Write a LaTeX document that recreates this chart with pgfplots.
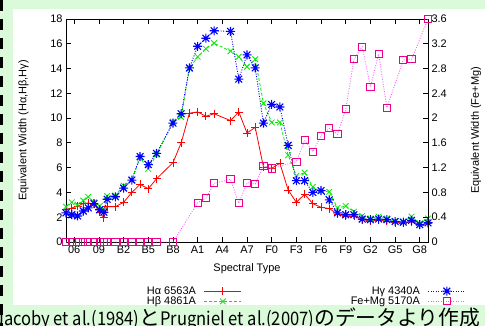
\documentclass[border=0pt]{standalone}
\usepackage{fontspec}
\setmainfont{Liberation Sans}
\newfontfamily\cjk{Noto Sans CJK JP}
\newfontfamily\cjklat{Noto Sans CJK JP}[FakeStretch=0.89]
\usepackage{pgfplots}
\pgfplotsset{compat=1.18}
\definecolor{bggreen}{RGB}{218,250,218}
\definecolor{hagreen}{RGB}{0,235,0}
\definecolor{pinkline}{RGB}{255,90,255}

\pgfdeclareplotmark{plusx}{%
 \pgfpathmoveto{\pgfqpoint{-\pgfplotmarksize}{0pt}}\pgfpathlineto{\pgfqpoint{\pgfplotmarksize}{0pt}}%
 \pgfpathmoveto{\pgfqpoint{0pt}{-\pgfplotmarksize}}\pgfpathlineto{\pgfqpoint{0pt}{\pgfplotmarksize}}%
 \pgfpathmoveto{\pgfqpoint{-0.75\pgfplotmarksize}{-0.75\pgfplotmarksize}}\pgfpathlineto{\pgfqpoint{0.75\pgfplotmarksize}{0.75\pgfplotmarksize}}%
 \pgfpathmoveto{\pgfqpoint{-0.75\pgfplotmarksize}{0.75\pgfplotmarksize}}\pgfpathlineto{\pgfqpoint{0.75\pgfplotmarksize}{-0.75\pgfplotmarksize}}%
 \pgfusepathqstroke}

\tikzset{
  sHa/.style={color=red, draw=red, solid, line width=0.8bp, mark=+, mark size=4bp, mark options={solid, draw=red, line width=0.8bp}},
  sHb/.style={color=hagreen, line width=0.8bp, dash pattern=on 3bp off 2bp, mark=x, mark size=4bp, mark options={solid, line width=0.8bp}},
  sHg/.style={color=blue, line width=0.9bp, dash pattern=on 1bp off 1.5bp, mark=plusx, mark size=4.5bp, mark options={solid, line width=1.1bp}},
  sFe/.style={color=pinkline, line width=0.8bp, dash pattern=on 1bp off 1.5bp, mark=square, mark size=3.6bp, mark options={solid, draw=magenta, line width=0.9bp}},
}
\pgfplotsset{
  commonax/.style={
    at={(66bp,84bp)}, anchor=south west, scale only axis,
    width=362bp, height=223bp, xmin=-1, xmax=43, clip=false,
    tick align=inside, major tick length=5bp,
    tick label style={font=\fontsize{11}{13}\selectfont},
    label style={font=\fontsize{11}{13}\selectfont},
    /pgf/number format/assume math mode=true,
    axis line style={line width=0.9bp},
    major tick style={black, line width=0.8bp},
    legend plot pos=right, legend cell align=right,
    legend image code/.code={\draw[mark repeat=2,mark phase=2,##1] plot coordinates {(0bp,0bp) (18.5bp,0bp) (37bp,0bp)};},
  }
}

\begin{document}
\begin{tikzpicture}
\useasboundingbox (0,0) rectangle (485bp,326bp);
\clip (0,0) rectangle (485bp,326bp);
\fill[bggreen] (0,0) rectangle (485bp,326bp);
\fill[white] (13bp,21bp) rectangle (485bp,316.5bp);
\draw[black, line width=3bp, dash pattern=on 11bp off 8bp] (1.5bp,326bp) -- (1.5bp,0bp);

\begin{axis}[commonax,
  ymin=0, ymax=18, ytick={0,2,...,18}, ytick pos=left, xtick pos=both,
  xtick={0,3,...,42},
  xticklabels={06,09,B2,B5,B8,A1,A4,A7,F0,F3,F6,F9,G2,G5,G8},
  xlabel={Spectral Type},
  ylabel={Equivalent Width (Hα,Hβ,Hγ)},
  xlabel style={at={(axis description cs:0.5,-0.121)}, anchor=center},
  ylabel style={at={(axis description cs:-0.117,0.5)}, anchor=center},
  legend style={at={(axis description cs:0.486,-0.19)}, anchor=north east, draw=none, fill=none,
    inner sep=0pt, row sep=-3bp, font=\fontsize{11}{13}\selectfont,
    /tikz/every odd column/.append style={column sep=6bp}},
]
\addplot[sHa] coordinates {
(-1,2.6) (-0.3,2.75) (0.4,2.9) (1.1,3.1) (1.7,3.15) (2.4,3.05) (3.1,2.4) (3.6,1.95) (4,2.85) (5,2.85)
(6,3.2) (7,4.0) (8,4.65) (9,4.3) (10,5.1) (12,6.4) (13,8.0) (14,10.4) (15,10.5) (16,10.15) (17,10.35)
(19,9.8) (20,10.5) (21,8.8) (22,9.25) (23,6.05) (24,5.95) (25,6.35) (26,4.2) (27,3.2) (28,3.85)
(29,3.1) (30,2.8) (31,2.7) (32,2.25) (33,2.1) (34,2.1) (35,1.8) (36,1.7) (37,1.75) (38,1.7)
(39,1.55) (40,1.5) (41,1.65) (42,1.35) (43,1.5)};
\addlegendentry{Hα 6563A}
\addplot[sHb] coordinates {
(-1,2.85) (-0.3,3.2) (0.4,3.0) (1.1,3.35) (1.7,3.65) (2.4,3.2) (3.1,2.9) (3.6,2.55) (4,3.7) (5,3.75)
(6,4.55) (7,5.0) (8,6.8) (9,5.9) (10,7.05) (12,9.7) (13,10.1) (14,14.0) (15,14.95) (16,15.6) (17,16.05)
(19,15.4) (20,14.95) (21,14.15) (22,14.75) (23,11.2) (24,9.65) (25,9.65) (26,7.0) (27,5.35) (28,5.6)
(29,4.45) (30,4.1) (31,4.05) (32,2.75) (33,2.9) (34,2.45) (35,2.1) (36,1.9) (37,2.05) (38,1.9)
(39,1.7) (40,1.65) (41,2.05) (42,1.5) (43,1.9)};
\addlegendentry{Hβ 4861A}
\addplot[sHg, forget plot] coordinates {
(-1,2.35) (-0.3,2.2) (0.4,2.1) (1.1,2.5) (1.7,2.75) (2.4,3.1) (3.1,2.6) (3.6,2.4) (4,3.45) (5,3.65)
(6,4.35) (7,5.0) (8,6.9) (9,6.25) (10,7.15) (12,9.6) (13,10.35) (14,14.05) (15,15.8) (16,16.45) (17,17.05)
(19,17.0) (20,13.15) (21,15.1) (22,14.05) (23,9.6) (24,11.1) (25,10.9) (26,7.8) (27,4.95) (28,4.95)
(29,4.0) (30,4.15) (31,3.4) (32,2.35) (33,2.2) (34,2.2) (35,1.85) (36,1.8) (37,1.85) (38,1.8)
(39,1.65) (40,1.6) (41,1.75) (42,1.4) (43,1.55)};
\end{axis}

\begin{axis}[commonax,
  ymin=0, ymax=3.6, ytick={0,0.4,0.8,1.2,1.6,2,2.4,2.8,3.2,3.6},
  axis x line=none, axis y line*=right, ytick pos=right,
  ylabel={Equivalent Width (Fe+Mg)},
  ylabel style={at={(axis description cs:1.133,0.5)}, anchor=center},
  legend style={at={(axis description cs:1.105,-0.19)}, anchor=north east, draw=none, fill=none,
    inner sep=0pt, row sep=-3bp, font=\fontsize{11}{13}\selectfont,
    /tikz/every odd column/.append style={column sep=6bp}},
]
\addlegendimage{sHg}\addlegendentry{Hγ 4340A}
\addplot[sFe] coordinates {
(-1,0) (-0.3,0) (0.4,0) (1.1,0) (1.7,0) (2.4,0) (3.1,0) (3.6,0) (4,0) (5,0) (6,0) (7,0) (8,0) (9,0) (10,0) (12,0)
(15,0.634) (16,0.705) (17,0.948) (19,1.012) (20,0.625) (21,0.957) (22,0.936) (23,1.232) (24,1.187)
(27,1.296) (28,1.642) (29,1.458) (30,1.716) (31,1.835) (32,1.738) (33,2.142) (34,2.95) (35,3.153)
(36,2.507) (37,3.035) (38,2.168) (40,2.938) (41,2.95) (43,3.6)};
\addlegendentry{Fe+Mg 5170A}
\end{axis}

\node[anchor=base west, inner sep=0pt] at (-5bp,1bp)
  {{\cjklat\fontsize{18.6bp}{20bp}\selectfont Jacoby et al.(1984)}{\cjk\fontsize{20.8bp}{22bp}\selectfont と}{\cjklat\fontsize{18.6bp}{20bp}\selectfont Prugniel et al.(2007)}{\cjk\fontsize{20.8bp}{22bp}\selectfont のデータより作成}};
\end{tikzpicture}
\end{document}
